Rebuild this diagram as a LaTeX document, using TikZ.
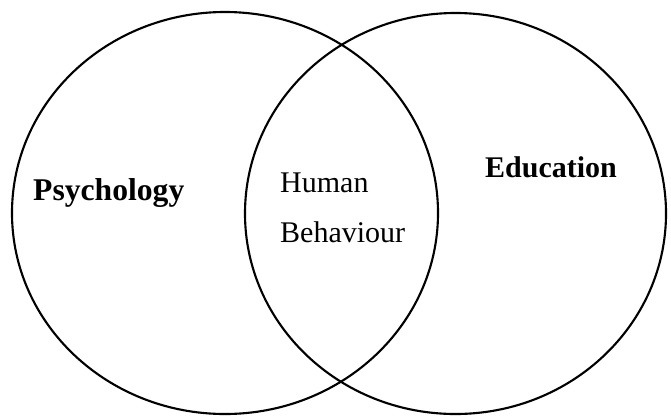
\documentclass[tikz,border=0pt]{standalone}
\usepackage{fontspec}
\setmainfont{Liberation Serif}
\usepackage{tikz}
\usetikzlibrary{shapes.geometric, positioning}

\begin{document}
\begin{tikzpicture}[
  x=0.03cm, y=-0.03cm,
  setring/.style={draw, ellipse, line width=1.8pt, inner sep=0pt, outer sep=0pt},
  setname/.style={anchor=base west, inner sep=0pt, font=\fontsize{25.6}{30}\selectfont\bfseries},
  overlap/.style={anchor=base west, inner sep=0pt, font=\fontsize{25.6}{30}\selectfont}
]
  \useasboundingbox (0,0) rectangle (671,418);
  \node[setring, minimum width=12.78cm, minimum height=12.06cm] (psych) at (225,213) {};
  \node[setring, minimum width=12.63cm, minimum height=12.03cm] (educ) at (455.5,213.5) {};
  \node[setname, font=\fontsize{27}{30}\selectfont\bfseries] (psychLbl) at (33,200) {Psychology};
  \node[setname] (educLbl) at (485,177) {Education};
  \node[overlap] (humanLbl) at (280,192) {Human};
  \node[overlap] (behavLbl) at (280,242) {Behaviour};
\end{tikzpicture}
\end{document}
